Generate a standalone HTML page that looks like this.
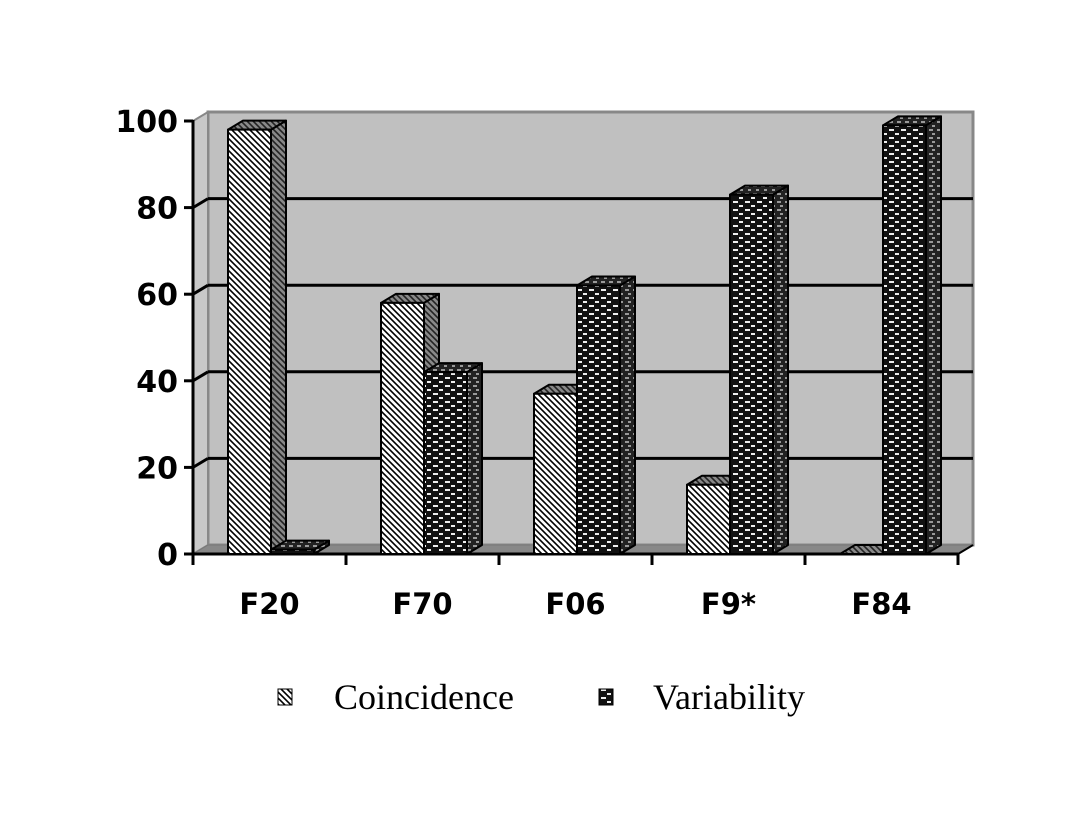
<!DOCTYPE html>
<html><head><meta charset="utf-8"><style>
html,body{margin:0;padding:0;background:#fff;}
svg{display:block;}
.yl{font-family:"DejaVu Sans",sans-serif;font-weight:bold;font-size:30px;}
.xl{font-family:"DejaVu Sans",sans-serif;font-weight:bold;font-size:29px;}
.lg{font-family:"Liberation Serif",serif;font-size:36px;}
</style></head><body>
<svg id="chart" width="1087" height="815" viewBox="0 0 1087 815">
<defs>
<pattern id="pc" width="6" height="6" patternUnits="userSpaceOnUse">
<rect width="6" height="6" fill="#fff"/><path d="M-1,-1 L7,7 M-1,5 L1,7 M5,-1 L7,1" stroke="#000" stroke-width="1.6"/></pattern>
<pattern id="pcs" width="6" height="6" patternUnits="userSpaceOnUse">
<rect width="6" height="6" fill="#888"/><path d="M-1,-1 L7,7 M-1,5 L1,7 M5,-1 L7,1" stroke="#222" stroke-width="1.6"/></pattern>
<pattern id="pv" width="12" height="8" patternUnits="userSpaceOnUse">
<rect width="12" height="8" fill="#111"/><rect x="1" y="1" width="5" height="2" fill="#eee"/><rect x="7" y="5" width="4" height="2" fill="#eee"/></pattern>
<pattern id="pvs" width="8" height="8" patternUnits="userSpaceOnUse">
<rect width="8" height="8" fill="#222"/><rect x="1" y="1" width="4" height="2" fill="#999"/><rect x="4" y="5" width="3" height="2" fill="#999"/></pattern>
</defs>
<g id="plot"></g>
<g>
<rect x="278" y="689" width="14" height="16" fill="url(#pc)" stroke="#000" stroke-width="1"/>
<text x="334" y="709" class="lg">Coincidence</text>
<rect x="599" y="689" width="14" height="16" fill="url(#pv)" stroke="#000" stroke-width="1"/>
<text x="653" y="709" class="lg">Variability</text>
</g>
</svg>
<script>
const categories = ["F20","F70","F06","F9*","F84"];
const coincidence = [98,58,37,16,0];
const variability = [1,42,62,83,99];
const yTicks = [0,20,40,60,80,100];

const NS="http://www.w3.org/2000/svg";
const g=document.getElementById('plot');
const x0=193,x1=958,y0=554,yTop=121,dx=15,dy=-9;
const Y=v=>y0-(v/100)*(y0-yTop);
const bandW=(x1-x0)/categories.length;
function mk(t,a){const e=document.createElementNS(NS,t);for(const k in a)e.setAttribute(k,a[k]);g.appendChild(e);return e;}
let e=mk('polygon',{points:`${x0+dx},${y0+dy} ${x0+dx},${yTop+dy} ${x1+dx},${yTop+dy} ${x1+dx},${y0+dy}`,fill:'#c0c0c0',stroke:'#888','stroke-width':3});

e=mk('polygon',{points:`${x0},${Y(100)} ${x0+dx},${Y(100)+dy} ${x0+dx},${y0+dy} ${x0},${y0}`,fill:'#c8c8c8',stroke:'#888','stroke-width':2});

e=mk('polygon',{points:`${x0},${y0} ${x0+dx},${y0+dy} ${x1+dx},${y0+dy} ${x1},${y0}`,fill:'#888',stroke:'#777','stroke-width':1});

yTicks.forEach(v=>{
  const y=Y(v);
  if(v>0&&v<100){e=mk('line',{x1:x0+dx,x2:x1+dx,y1:y+dy,y2:y+dy,stroke:'#000','stroke-width':3});
  
  e=mk('line',{x1:x0,x2:x0+dx,y1:y,y2:y+dy,stroke:'#000','stroke-width':3});
  }
  e=mk('line',{x1:x0-9,x2:x0,y1:y,y2:y,stroke:'#000','stroke-width':3});
  
  e=mk('text',{x:x0-15,y:y+11,'text-anchor':'end',class:'yl'});e.textContent=v;
  
});
e=mk('line',{x1:x0,x2:x0,y1:Y(100)-1,y2:y0+1,stroke:'#000','stroke-width':3});

e=mk('line',{x1:x0,x2:x1,y1:y0,y2:y0,stroke:'#000','stroke-width':3});

e=mk('line',{x1:x1,x2:x1+dx,y1:y0,y2:y0+dy,stroke:'#000','stroke-width':2});

for(let i=0;i<=categories.length;i++){
  const x=x0+i*bandW;
  e=mk('line',{x1:x,x2:x,y1:y0,y2:y0+11,stroke:'#000','stroke-width':3});
  
}
function bar(x,v,front,side,name){
  const w=43,yt=Y(v);
  const grp=document.createElementNS(NS,'g');g.appendChild(grp);
  
  
  const add=(pts,f)=>{const p=document.createElementNS(NS,'polygon');p.setAttribute('points',pts);p.setAttribute('fill',f);p.setAttribute('stroke','#000');p.setAttribute('stroke-width','2');p.setAttribute('stroke-linejoin','round');grp.appendChild(p);};
  add(`${x+w},${yt} ${x+w+dx},${yt+dy} ${x+w+dx},${y0+dy} ${x+w},${y0}`,`url(#${side})`);
  add(`${x},${yt} ${x+dx},${yt+dy} ${x+w+dx},${yt+dy} ${x+w},${yt}`,`url(#${side})`);
  if(v>0.5) add(`${x},${yt} ${x+w},${yt} ${x+w},${y0} ${x},${y0}`,`url(#${front})`);
}
categories.forEach((c,i)=>{
  const bx=x0+i*bandW+35;
  bar(bx,coincidence[i],'pc','pcs','bar-coincidence-'+c);
  bar(bx+43,variability[i],'pv','pvs','bar-variability-'+c);
  e=mk('text',{x:x0+(i+0.5)*bandW,y:614,'text-anchor':'middle',class:'xl'});e.textContent=c;
  
});
</script>
</body></html>
